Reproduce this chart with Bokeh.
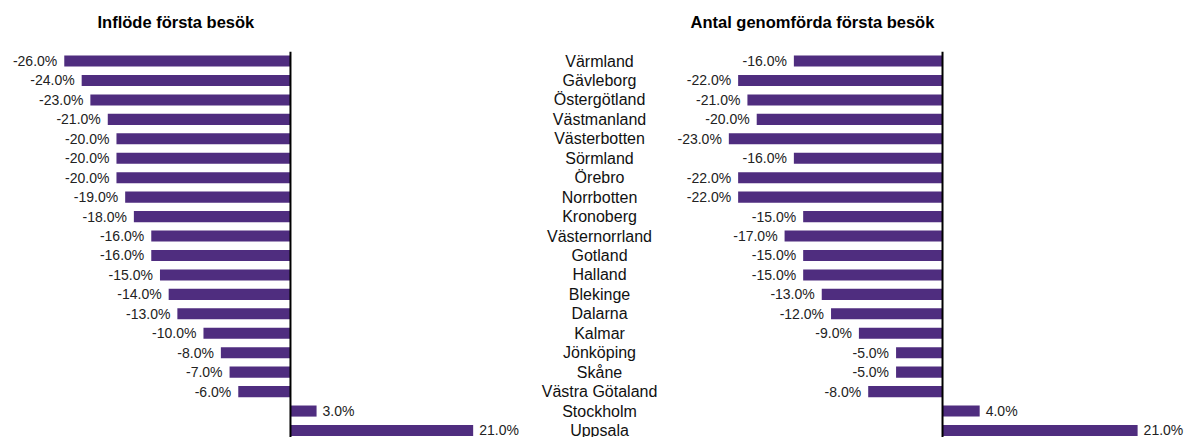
from bokeh.plotting import figure
from bokeh.models import ColumnDataSource, Range1d, Span
from bokeh.layouts import row, column
from bokeh.core.properties import value
from bokeh.embed import file_html
from bokeh.resources import INLINE

categories = ["Värmland", "Gävleborg", "Östergötland", "Västmanland", "Västerbotten",
              "Sörmland", "Örebro", "Norrbotten", "Kronoberg", "Västernorrland",
              "Gotland", "Halland", "Blekinge", "Dalarna", "Kalmar", "Jönköping",
              "Skåne", "Västra Götaland", "Stockholm", "Uppsala"]
inflow = [-26, -24, -23, -21, -20, -20, -20, -19, -18, -16, -16, -15, -14, -13,
          -10, -8, -7, -6, 3, 21]
completed = [-16, -22, -21, -20, -23, -16, -22, -22, -15, -17, -15, -15, -13,
             -12, -9, -5, -5, -8, 4, 21]
titles = ["Inflöde första besök", "Antal genomförda första besök"]

BAR = "#4F2D7F"
FONT = "Liberation Sans"
W = 1187
HEAD = 40
H = 437 - HEAD
TOP = 51 - HEAD
Y_RANGE = (19.36, -0.49)


def clean(p):
    p.axis.visible = False
    p.grid.visible = False
    p.outline_line_color = None
    p.background_fill_color = None
    p.border_fill_color = None


def panel(vals, width, xr):
    idx = list(range(len(vals)))
    p = figure(width=width, height=H, x_range=Range1d(*xr), y_range=Range1d(*Y_RANGE),
               output_backend="svg", toolbar_location=None,
               min_border_left=0, min_border_right=0, min_border_bottom=0,
               min_border_top=TOP)
    clean(p)
    src = ColumnDataSource(dict(y=idx, v=vals))
    p.hbar(y="y", left=0, right="v", height=0.57, source=src,
           fill_color=BAR, line_color=None)
    neg = [(i, v) for i, v in zip(idx, vals) if v < 0]
    pos = [(i, v) for i, v in zip(idx, vals) if v >= 0]
    for grp, align, off in ((neg, "right", -7), (pos, "left", 6)):
        s = ColumnDataSource(dict(y=[g[0] for g in grp], v=[g[1] for g in grp],
                                  t=[f"{g[1]:.1f}%" for g in grp]))
        p.text(x="v", y="y", text="t", source=s, text_align=align,
               text_baseline="middle", x_offset=off, text_font=value(FONT),
               text_font_size="14px", text_color="#222222")
    p.add_layout(Span(location=0, dimension="height", line_color="#000000",
                      line_width=2))
    return p


# title strip (pixel-like coordinates, y measured upward from strip bottom)
head = figure(width=W, height=HEAD, x_range=Range1d(0, W), y_range=Range1d(0, HEAD),
              output_backend="svg", toolbar_location=None,
              min_border_left=0, min_border_right=0, min_border_bottom=0,
              min_border_top=0)
clean(head)
head.text(x=[97, 690], y=[HEAD - 21.5, HEAD - 21.5], text=titles, text_align="left",
          text_baseline="middle", text_font=value(FONT), text_font_size="16.5px",
          text_font_style="bold", text_color="#000000")

left = panel(inflow, 530, (-33.33, 27.59))
right = panel(completed, 517, (-29.28, 26.37))

mid = figure(width=140, height=H, x_range=Range1d(0, 1), y_range=Range1d(*Y_RANGE),
             output_backend="svg", toolbar_location=None,
             min_border_left=0, min_border_right=0, min_border_bottom=0,
             min_border_top=TOP)
clean(mid)
msrc = ColumnDataSource(dict(x=[0.493] * len(categories), y=list(range(len(categories))),
                             t=categories))
mid.text(x="x", y="y", text="t", source=msrc, text_align="center",
         text_baseline="middle", text_font=value(FONT), text_font_size="16px",
         text_color="#111111")

layout = column(head, row(left, mid, right, spacing=0), spacing=0)
open("out.html", "w").write(file_html(layout, INLINE))
